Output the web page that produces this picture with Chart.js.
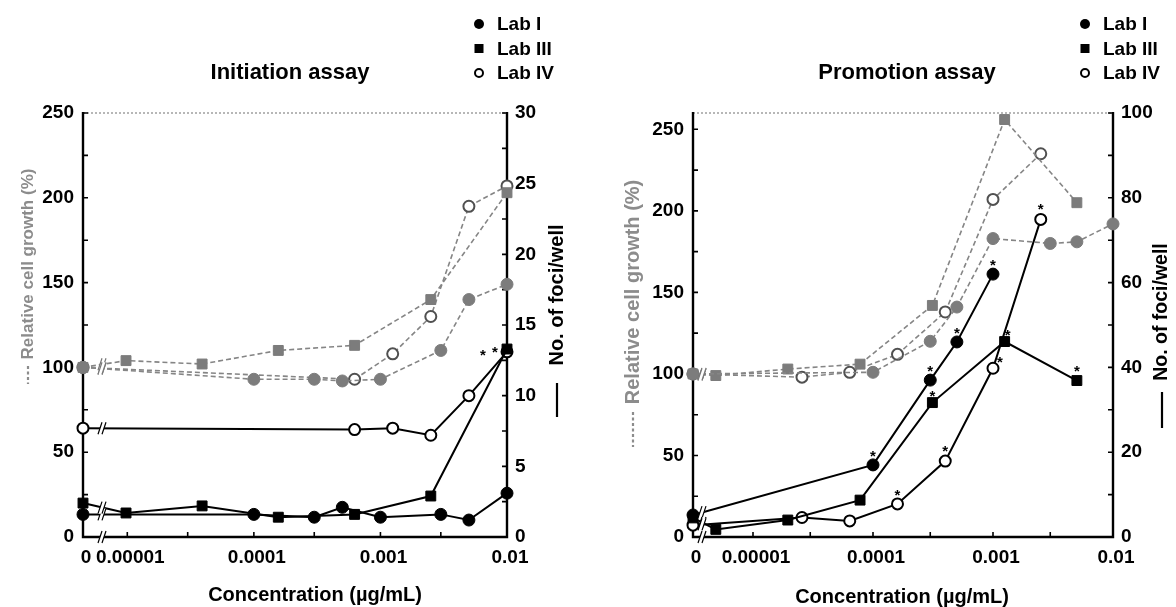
<!DOCTYPE html>
<html><head><meta charset="utf-8">
<title>Initiation and promotion assay</title>
<script src="https://cdn.jsdelivr.net/npm/chart.js@4.4.1/dist/chart.umd.min.js"></script>
<style>
html,body{margin:0;padding:0;background:#fff;}
#wrap{position:relative;width:1176px;height:607px;overflow:hidden;background:#fff;}
canvas{position:absolute;top:0;}
#c1{left:0;} #c2{left:588px;}
</style></head>
<body><div id="wrap"><canvas id="c1" width="588" height="607"></canvas><canvas id="c2" width="588" height="607"></canvas></div>
<script>
// ---------- shared x axis (concentration, µg/mL) ----------
const xTickConc   = [0, 1e-5, 1e-4, 1e-3, 1e-2];
const xTickLabels = ['0', '0.00001', '0.0001', '0.001', '0.01'];
const xMinorConc  = [3e-5, 3e-4, 3e-3];
const labNames    = ['Lab I', 'Lab III', 'Lab IV'];

// ---------- Initiation assay ----------
const initLeftTicks  = [0, 50, 100, 150, 200, 250];
const initRightTicks = [0, 5, 10, 15, 20, 25, 30];
const initLabIConc     = [0, 1e-4, 3e-4, 5e-4, 1e-3, 3e-3, 5e-3, 1e-2];
const initLabIGrowth   = [100, 93, 93, 92, 93, 110, 140, 149];
const initLabIFoci     = [1.6, 1.6, 1.4, 2.1, 1.4, 1.6, 1.2, 3.1];
const initLabIIIConc   = [0, 9.77e-6, 3.9e-5, 1.56e-4, 6.25e-4, 2.5e-3, 1e-2];
const initLabIIIGrowth = [100, 104, 102, 110, 113, 140, 203];
const initLabIIIFoci   = [2.4, 1.7, 2.2, 1.4, 1.6, 2.9, 13.3];
const initLabIVConc    = [0, 6.25e-4, 1.25e-3, 2.5e-3, 5e-3, 1e-2];
const initLabIVGrowth  = [100, 93, 108, 130, 195, 207];
const initLabIVFoci    = [7.7, 7.6, 7.7, 7.2, 10.0, 13.1];

// ---------- Promotion assay ----------
const promLeftTicks  = [0, 50, 100, 150, 200, 250];
const promRightTicks = [0, 20, 40, 60, 80, 100];
const promLabIConc     = [0, 1e-4, 3e-4, 5e-4, 1e-3, 3e-3, 5e-3, 1e-2];
const promLabIGrowth   = [100, 101, 120, 141, 183, 180, 181, 192];
const promLabIFoci     = [5.2, 17, 37, 46, 62, null, null, null];
const promLabIIIConc   = [0, 4.9e-6, 1.95e-5, 7.8e-5, 3.125e-4, 1.25e-3, 5e-3];
const promLabIIIGrowth = [100, 99, 103, 106, 142, 256, 205];
const promLabIIIFoci   = [4.5, 1.8, 4.0, 8.7, 31.7, 46.1, 36.9];
const promLabIVConc    = [0, 2.56e-5, 6.4e-5, 1.6e-4, 4e-4, 1e-3, 2.5e-3];
const promLabIVGrowth  = [100, 98, 101, 112, 138, 207, 235];
const promLabIVFoci    = [2.8, 4.6, 3.8, 7.8, 17.9, 39.8, 74.9];

// significance marks: [foci series (0=Lab I,1=Lab III,2=Lab IV), point index, text]
const initStars = [[2, 5, '*'], [1, 6, '*']];
const promStars = [[0,1,'*'],[0,2,'*'],[0,3,'*'],[0,4,'*'],[1,4,'*'],[1,5,'*'],[1,6,'*'],[2,3,'*'],[2,4,'*'],[2,5,'*'],[2,6,'*']];

// ---------- styling ----------
const FONT = '"Liberation Sans", Arial, Helvetica, sans-serif';
const GRAY = '#858585';
const GRAY_MARK = '#7c7c7c';

function styleFor(kind, gray){
  const s = {tension:0, borderWidth: gray?1.6:2, borderColor: gray?GRAY:'#000',
             borderDash: gray?[5,3]:[], pointBorderWidth:1, fill:false, clip:false};
  const c = gray?GRAY_MARK:'#000';
  if(kind===0){Object.assign(s,{pointStyle:'circle',pointRadius:6,pointBackgroundColor:c,pointBorderColor:c});}
  if(kind===1){Object.assign(s,{pointStyle:'rect',pointRadius:7,pointBackgroundColor:c,pointBorderColor:c});}
  if(kind===2){Object.assign(s,{pointStyle:'circle',pointRadius:5.5,pointBackgroundColor:'#fff',pointBorderColor:gray?'#505050':'#000',pointBorderWidth:2});}
  return s;
}

function makePanel(P){
  const toX = c => c===0 ? P.xMin : Math.log10(c);
  const mk = (conc, vals, axis, kind, gray) => Object.assign({
      label: labNames[kind],
      yAxisID: axis,
      data: conc.map((c,i)=>({x:toX(c), y:vals[i]})).filter(p=>p.y!==null)
    }, styleFor(kind, gray));
  const datasets = [
    mk(P.conc[0], P.foci[0], 'y1', 0, false),
    mk(P.conc[1], P.foci[1], 'y1', 1, false),
    mk(P.conc[2], P.foci[2], 'y1', 2, false),
    mk(P.conc[0], P.growth[0], 'y', 0, true),
    mk(P.conc[1], P.growth[1], 'y', 1, true),
    mk(P.conc[2], P.growth[2], 'y', 2, true)
  ];
  const tickFont = {family:FONT, size:19, weight:'bold'};

  const decor = {
    id:'decor',
    beforeDatasetsDraw(chart){
      const {ctx, chartArea:a, scales} = chart;
      const x=scales.x, y=scales.y, y1=scales.y1;
      ctx.save();
      ctx.strokeStyle='#a0a0a0'; ctx.lineWidth=1.5; ctx.setLineDash([2,2]);
      ctx.beginPath(); ctx.moveTo(a.left, a.top); ctx.lineTo(a.right, a.top); ctx.stroke();
      ctx.setLineDash([]);
      ctx.strokeStyle='#000'; ctx.lineWidth=2.4;
      ctx.beginPath(); ctx.moveTo(a.left, a.top-1); ctx.lineTo(a.left, a.bottom); ctx.lineTo(a.right, a.bottom); ctx.lineTo(a.right, a.top-1); ctx.stroke();
      ctx.lineWidth=1.6;
      const tl=5;
      ctx.beginPath();
      const lt = P.leftTicks, step=(lt[1]-lt[0])/2;
      for(let v=lt[0]; v<=P.leftMax+1e-9; v+=step){ const py=y.getPixelForValue(v); ctx.moveTo(a.left,py); ctx.lineTo(a.left+tl,py);}
      const rt = P.rightTicks, rstep=(rt[1]-rt[0])/2;
      for(let v=rt[0]; v<=rt[rt.length-1]+1e-9; v+=rstep){ const py=y1.getPixelForValue(v); ctx.moveTo(a.right,py); ctx.lineTo(a.right-tl,py);}
      xTickConc.concat(xMinorConc).forEach(c=>{ if(c===0) return; const px=x.getPixelForValue(toX(c)); ctx.moveTo(px,a.bottom); ctx.lineTo(px,a.bottom-tl);});
      ctx.stroke();
      ctx.restore();
    },
    afterDatasetsDraw(chart){
      const {ctx, chartArea:a} = chart;
      const bx = a.left + P.breakOffset;
      ctx.save();
      const brk = (px, py, color) => {
        ctx.save(); ctx.translate(px, py);
        ctx.fillStyle='#fff';
        ctx.beginPath(); ctx.moveTo(-5,6); ctx.lineTo(-1,-6); ctx.lineTo(3,-6); ctx.lineTo(-1,6); ctx.closePath(); ctx.fill();
        ctx.strokeStyle=color; ctx.lineWidth=1.2;
        ctx.beginPath(); ctx.moveTo(-5,6); ctx.lineTo(-1,-6); ctx.moveTo(-1,6); ctx.lineTo(3,-6); ctx.stroke();
        ctx.restore();
      };
      brk(bx, a.bottom, '#000');
      chart.data.datasets.forEach((ds,i)=>{
        const pts = chart.getDatasetMeta(i).data;
        if(ds.data[0].x!==P.xMin || pts.length<2) return;
        const p0=pts[0], p1=pts[1];
        const py = p0.y + (p1.y-p0.y)*(bx-p0.x)/(p1.x-p0.x);
        brk(bx, py, ds.borderColor==='#000'?'#000':'#777');
      });
      ctx.fillStyle='#000'; ctx.font='bold 15px '+FONT; ctx.textAlign='center'; ctx.textBaseline='alphabetic';
      P.stars.forEach(([s,idx,t],k)=>{
        const pt = chart.getDatasetMeta(s).data[idx];
        const off = P.starOffset[k];
        ctx.fillText(t, pt.x+off[0], pt.y+off[1]+9);
      });
      ctx.restore();
    },
    afterDraw(chart){
      const {ctx} = chart;
      ctx.save();
      ctx.fillStyle='#000'; ctx.textAlign='center'; ctx.textBaseline='middle';
      ctx.font='bold 22px '+FONT;
      ctx.fillText(P.title, P.titleX, P.titleY);
      ctx.font='bold 19px '+FONT; ctx.textAlign='left';
      labNames.forEach((n,i)=>{
        const ly = P.legY + i*P.legGap, lx=P.legX;
        ctx.fillStyle='#000'; ctx.strokeStyle='#000';
        if(i===0){ctx.beginPath(); ctx.arc(lx, ly, 5, 0, Math.PI*2); ctx.fill();}
        if(i===1){ctx.fillRect(lx-4.5, ly-4.5, 9, 9);}
        if(i===2){ctx.lineWidth=2; ctx.beginPath(); ctx.arc(lx, ly, 4, 0, Math.PI*2); ctx.stroke();}
        ctx.fillText(n, lx+18, ly+1);
      });
      ctx.textAlign='center'; ctx.font='bold 20px '+FONT; ctx.fillStyle='#000';
      ctx.fillText('Concentration (µg/mL)', P.xTitleX, P.xTitleY);
      ctx.save(); ctx.translate(P.lTitleX, P.lTitleY); ctx.rotate(-Math.PI/2);
      ctx.font='bold '+P.lTitleSize+'px '+FONT; ctx.fillStyle='#8c8c8c'; ctx.textAlign='center';
      ctx.fillText('Relative cell growth (%)', 0, 0);
      ctx.restore();
      ctx.strokeStyle='#8c8c8c'; ctx.lineWidth=2.2; ctx.setLineDash([3,2.5]);
      ctx.beginPath(); ctx.moveTo(P.lTitleX, P.lKey[0]); ctx.lineTo(P.lTitleX, P.lKey[1]); ctx.stroke();
      ctx.setLineDash([]);
      ctx.save(); ctx.translate(P.rTitleX, P.rTitleY); ctx.rotate(-Math.PI/2);
      ctx.font='bold '+P.rTitleSize+'px '+FONT; ctx.fillStyle='#000'; ctx.textAlign='center';
      ctx.fillText('No. of foci/well', 0, 0);
      ctx.restore();
      ctx.strokeStyle='#000'; ctx.lineWidth=2.2;
      ctx.beginPath(); ctx.moveTo(P.rTitleX, P.rKey[0]); ctx.lineTo(P.rTitleX, P.rKey[1]); ctx.stroke();
      ctx.restore();
    }
  };

  return new Chart(document.getElementById(P.canvas), {
    type:'line',
    data:{datasets},
    plugins:[decor],
    options:{
      responsive:false, animation:false, devicePixelRatio:1,
      events:[],
      layout:{padding:{top:P.areaTop, left:0, right:0, bottom:0}},
      plugins:{legend:{display:false}, tooltip:{enabled:false}, title:{display:false}},
      scales:{
        x:{type:'linear', min:P.xMin, max:-2,
           afterFit:s=>{s.height = 607-P.areaBottom;},
           afterBuildTicks:s=>{s.ticks = xTickConc.map(c=>({value:toX(c)}));},
           grid:{display:false, drawTicks:false}, border:{display:false},
           ticks:{autoSkip:false, maxRotation:0, minRotation:0, padding:9, labelOffset:3, color:'#000', font:tickFont,
                  callback:(v,i)=>xTickLabels[i]}},
        y:{type:'linear', position:'left', min:0, max:P.leftMax,
           afterFit:s=>{s.width = P.areaLeft;},
           afterBuildTicks:s=>{s.ticks = P.leftTicks.map(v=>({value:v}));},
           grid:{display:false, drawTicks:false}, border:{display:false},
           ticks:{padding:9, color:'#000', font:tickFont}},
        y1:{type:'linear', position:'right', min:0, max:P.rightTicks[P.rightTicks.length-1],
           afterFit:s=>{s.width = 588-P.areaRight;},
           afterBuildTicks:s=>{s.ticks = P.rightTicks.map(v=>({value:v}));},
           grid:{display:false, drawTicks:false}, border:{display:false},
           ticks:{padding:8, color:'#000', font:tickFont}}
      }
    }
  });
}

makePanel({
  canvas:'c1', title:'Initiation assay', titleX:290, titleY:73,
  legX:479, legY:24, legGap:24.5,
  areaLeft:83, areaRight:507, areaTop:113, areaBottom:537,
  xMin:-5.35, leftMax:250, leftTicks:initLeftTicks, rightTicks:initRightTicks,
  conc:[initLabIConc, initLabIIIConc, initLabIVConc],
  growth:[initLabIGrowth, initLabIIIGrowth, initLabIVGrowth],
  foci:[initLabIFoci, initLabIIIFoci, initLabIVFoci],
  stars:initStars, starOffset:[[-24,-1],[-12,-1]],
  breakOffset:20,
  xTitleX:315, xTitleY:595,
  lTitleX:28, lTitleY:264, lTitleSize:17, lKey:[366,384],
  rTitleX:557, rTitleY:295, rTitleSize:20, rKey:[383,417]
});

makePanel({
  canvas:'c2', title:'Promotion assay', titleX:319, titleY:73,
  legX:497, legY:24, legGap:24.5,
  areaLeft:105, areaRight:525, areaTop:113, areaBottom:537,
  xMin:-5.5, leftMax:260, leftTicks:promLeftTicks, rightTicks:promRightTicks,
  conc:[promLabIConc, promLabIIIConc, promLabIVConc],
  growth:[promLabIGrowth, promLabIIIGrowth, promLabIVGrowth],
  foci:[promLabIFoci, promLabIIIFoci, promLabIVFoci],
  stars:promStars,
  starOffset:[[0,-13],[0,-13],[0,-13],[0,-13],[0,-11],[3,-11],[0,-14],[0,-13],[0,-14],[7,-10],[0,-14]],
  breakOffset:10,
  xTitleX:314, xTitleY:597,
  lTitleX:45, lTitleY:292, lTitleSize:20, lKey:[412,447],
  rTitleX:574, rTitleY:312, rTitleSize:19.5, rKey:[392,428]
});
</script></body></html>
